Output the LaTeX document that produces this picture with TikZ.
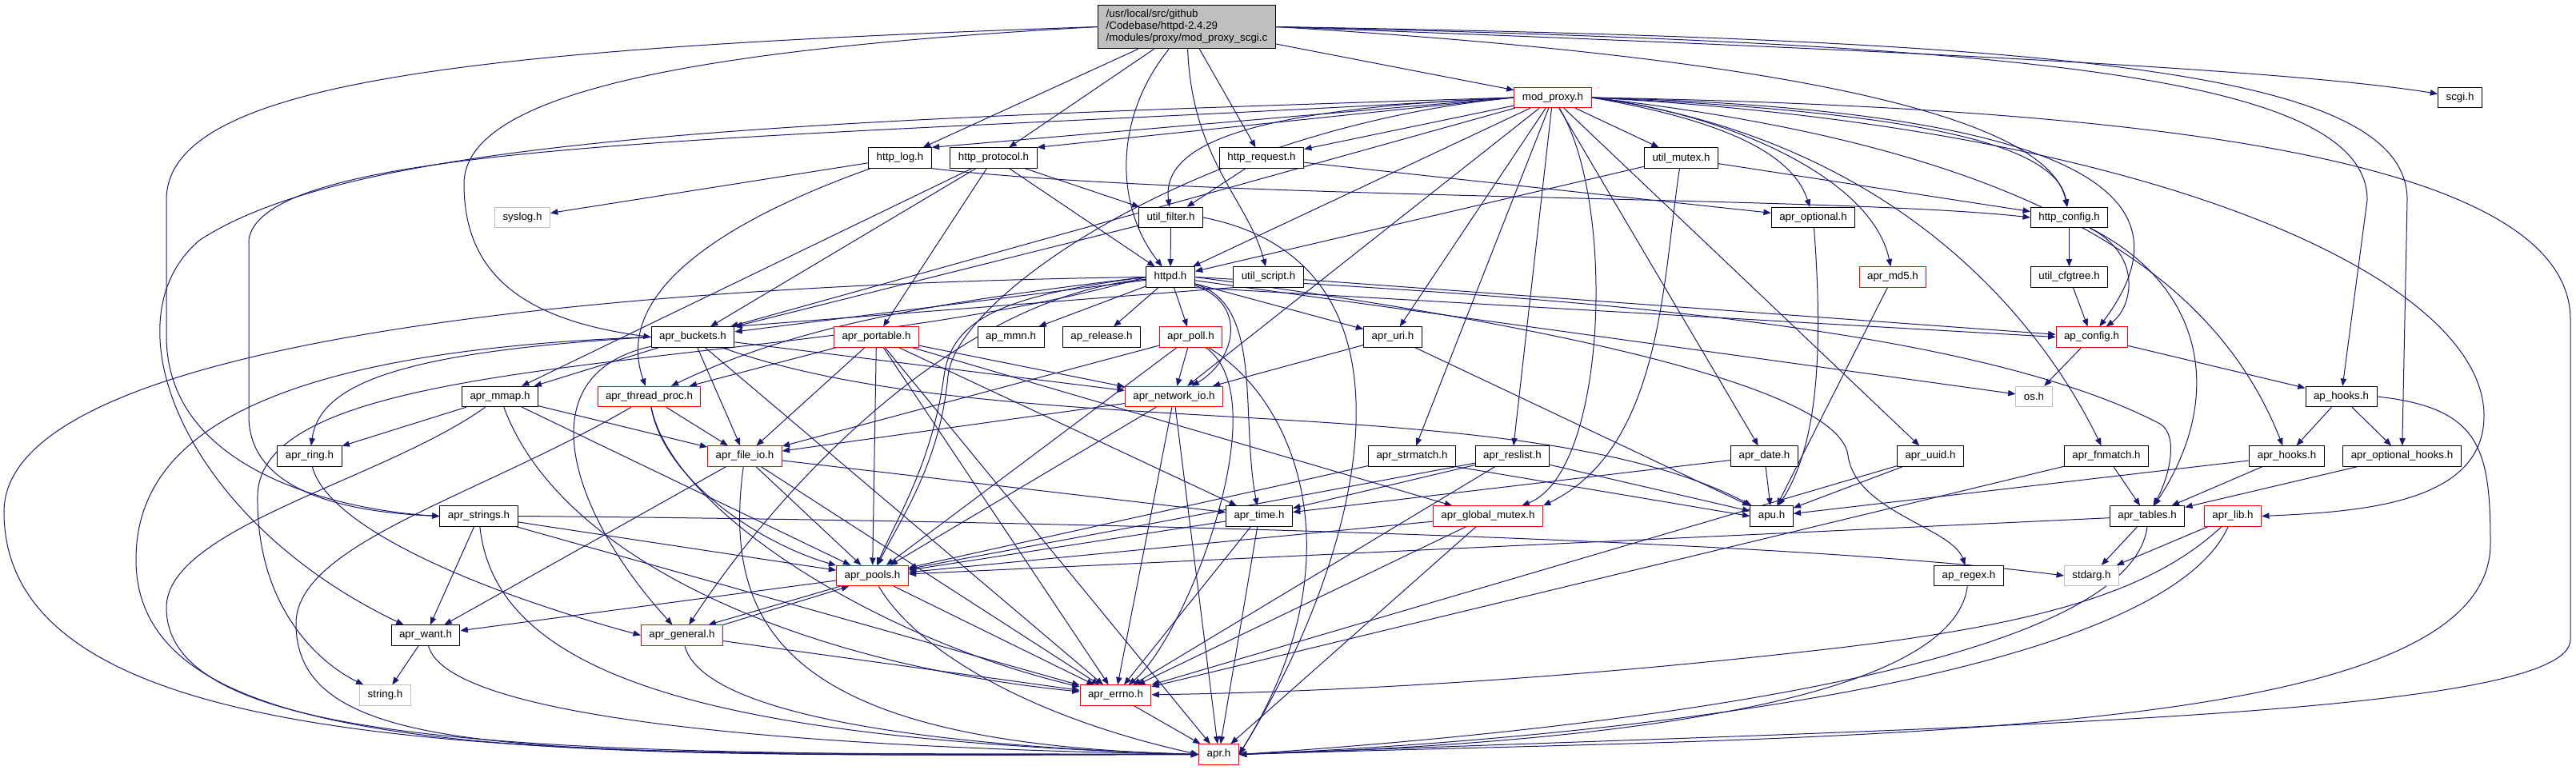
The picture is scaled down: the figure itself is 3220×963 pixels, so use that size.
\documentclass[tikz,border=0pt]{standalone}
\usepackage{fontspec}
\setmainfont{Liberation Sans}
\usetikzlibrary{arrows.meta}
\definecolor{edgeblue}{RGB}{25,25,112}
\definecolor{boxred}{RGB}{255,0,0}
\definecolor{boxgray}{RGB}{191,191,191}
\pgfdeclarelayer{bg}
\pgfdeclarelayer{edges}
\pgfsetlayers{bg,edges,main}
\begin{document}
\begin{tikzpicture}[x=0.75pt,y=-0.75pt,
  box/.style={draw=black, fill=white, rectangle, line width=0.75pt, inner xsep=7.5pt, inner ysep=2pt, minimum height=19pt, font=\fontsize{10}{11.25}\selectfont},
  redbox/.style={box, draw=boxred},
  graybox/.style={box, draw=boxgray},
  mainbox/.style={box, fill=boxgray, align=left, minimum height=41pt},
  e/.style={draw=edgeblue, line width=0.75pt, -{Triangle[length=7pt,width=5.5pt]}}]
\useasboundingbox (0,0) rectangle (3220,963);
\begin{pgfonlayer}{bg}
\fill[white] (0,0) rectangle (3220,963);
\end{pgfonlayer}

% ---------- nodes ----------
\node[mainbox] (main) at (1483.5,33.5) {/usr/local/src/github\\/Codebase/httpd-2.4.29\\/modules/proxy/mod\_proxy\_scgi.c};
\node[redbox] (modproxy) at (1941,122) {mod\_proxy.h};
\node[box] (scgi) at (3075,122) {scgi.h};
\node[box] (httplog) at (1125,197.5) {http\_log.h};
\node[box] (httpprotocol) at (1242,197.5) {http\_protocol.h};
\node[box] (httprequest) at (1577,197.5) {http\_request.h};
\node[box] (utilmutex) at (2101.5,197.5) {util\_mutex.h};
\node[graybox] (syslog) at (653,272) {syslog.h};
\node[box] (utilfilter) at (1463.5,272) {util\_filter.h};
\node[box] (aproptional) at (2266.5,272) {apr\_optional.h};
\node[box] (httpconfig) at (2586.5,272) {http\_config.h};
\node[box] (httpd) at (1463,346.5) {httpd.h};
\node[box] (utilscript) at (1585.5,346.5) {util\_script.h};
\node[redbox] (aprmdfive) at (2366,346.5) {apr\_md5.h};
\node[box] (utilcfgtree) at (2586.5,346.5) {util\_cfgtree.h};
\node[box] (aprbuckets) at (866,421.5) {apr\_buckets.h};
\node[redbox] (aprportable) at (1095.5,421.5) {apr\_portable.h};
\node[box] (apmmn) at (1263.5,421.5) {ap\_mmn.h};
\node[box] (aprelease) at (1377,421.5) {ap\_release.h};
\node[redbox] (aprpoll) at (1488.5,421.5) {apr\_poll.h};
\node[box] (apruri) at (1741,421.5) {apr\_uri.h};
\node[redbox] (apconfig) at (2614.5,421.5) {ap\_config.h};
\node[box] (aprmmap) at (625,496) {apr\_mmap.h};
\node[redbox] (aprthreadproc) at (811.5,496) {apr\_thread\_proc.h};
\node[redbox] (aprnetworkio) at (1467.5,496) {apr\_network\_io.h};
\node[graybox] (osh) at (2542.5,496) {os.h};
\node[box] (aphooks) at (2926.5,496) {ap\_hooks.h};
\node[box] (aprring) at (387,570.5) {apr\_ring.h};
\node[redbox] (aprfileio) at (931,570.5) {apr\_file\_io.h};
\node[box] (aprstrmatch) at (1765,570.5) {apr\_strmatch.h};
\node[box] (aprreslist) at (1890.5,570.5) {apr\_reslist.h};
\node[box] (aprdate) at (2205.5,570.5) {apr\_date.h};
\node[box] (apruuid) at (2413,570.5) {apr\_uuid.h};
\node[box] (aprfnmatch) at (2633,570.5) {apr\_fnmatch.h};
\node[box] (aprhooks) at (2858.5,570.5) {apr\_hooks.h};
\node[box] (aproptionalhooks) at (3002.5,570.5) {apr\_optional\_hooks.h};
\node[box] (aprstrings) at (598.5,645.5) {apr\_strings.h};
\node[box] (aprtime) at (1574,645.5) {apr\_time.h};
\node[redbox] (aprglobalmutex) at (1860,645.5) {apr\_global\_mutex.h};
\node[box] (apu) at (2214.5,645.5) {apu.h};
\node[box] (aprtables) at (2684,645.5) {apr\_tables.h};
\node[redbox] (aprlib) at (2791,645.5) {apr\_lib.h};
\node[redbox] (aprpools) at (1090.5,720) {apr\_pools.h};
\node[box] (apregex) at (2461,720) {ap\_regex.h};
\node[graybox] (stdarg) at (2614.5,720) {stdarg.h};
\node[box] (aprwant) at (532,794.5) {apr\_want.h};
\node[redbox] (aprgeneral) at (852.5,794.5) {apr\_general.h};
\node[graybox] (stringh) at (481.5,869.5) {string.h};
\node[redbox] (aprerrno) at (1394.5,869.5) {apr\_errno.h};
\node[redbox] (apr) at (1523.5,943.5) {apr.h};

% ---------- edges ----------
\begin{pgfonlayer}{edges}
% main file
\draw[e] (main) -- (modproxy);
\draw[e] (main.east) .. controls (2300,60) and (2850,85) .. (scgi);
\draw[e] (main.east) .. controls (2200,70) and (2560,140) .. (httpconfig);
\draw[e] (main.east) .. controls (2500,55) and (2959,90) .. (2959,250) -- (aphooks);
\draw[e] (main.east) .. controls (2600,50) and (3009,90) .. (3009,250) -- (aproptionalhooks);
\draw[e] (main) -- (httplog);
\draw[e] (main) -- (httpprotocol);
\draw[e] (main) -- (httprequest);
\draw[e] (main) .. controls (1390,150) and (1395,260) .. (httpd);
\draw[e] (main) .. controls (1490,200) and (1560,250) .. (utilscript);
\draw[e] (main.west) .. controls (900,60) and (580,110) .. (580,230) .. controls (580,340) and (650,400) .. (aprbuckets.west);
\draw[e] (main.west) .. controls (600,60) and (208,100) .. (208,250) -- (208,420) .. controls (208,600) and (450,640) .. (aprstrings.west);
% mod_proxy.h
\draw[e] (modproxy.west) -- (httplog.north east);
\draw[e] (modproxy.west) -- (httpprotocol.north east);
\draw[e] (modproxy) -- (httprequest);
\draw[e] (modproxy) -- (utilmutex);
\draw[e] (modproxy.west) .. controls (1600,135) and (1450,170) .. (utilfilter);
\draw[e] (modproxy) -- (httpd);
\draw[e] (modproxy.east) .. controls (2400,140) and (2570,180) .. (httpconfig);
\draw[e] (modproxy.east) .. controls (2700,140) and (2720,280) .. (apconfig);
\draw[e] (modproxy.east) .. controls (2150,140) and (2340,220) .. (aprmdfive);
\draw[e] (modproxy) -- (apruri);
\draw[e] (modproxy) -- (aprdate);
\draw[e] (modproxy) -- (aprstrmatch);
\draw[e] (modproxy) -- (aprreslist);
\draw[e] (modproxy) .. controls (2020,250) and (2010,590) .. ([xshift=-20pt]aprglobalmutex.north east);
\draw[e] (modproxy) -- (apruuid);
\draw[e] (modproxy.east) .. controls (2350,170) and (2540,380) .. (aprfnmatch);
\draw[e] (modproxy.east) .. controls (2500,180) and (2760,320) .. (aprhooks);
\draw[e] (modproxy.east) .. controls (2700,160) and (3105,350) .. (3105,520) .. controls (3105,630) and (2950,640) .. (aprlib.east);
\draw[e] (modproxy.east) .. controls (2700,135) and (3213,200) .. (3213,400) -- (3213,800) .. controls (3213,900) and (2400,910) .. (apr.east);
\draw[e] (modproxy.east) .. controls (2150,150) and (2240,190) .. (aproptional);
\draw[e] (modproxy.west) .. controls (1500,160) and (1195,370) .. (1185,470) .. controls (1175,580) and (1125,650) .. (aprpools);
\draw[e] (modproxy) -- (aprnetworkio);
\draw[e] (modproxy) -- (aprbuckets);
\draw[e] (modproxy.west) .. controls (1000,175) and (330,170) .. (311,300) -- (311,520) .. controls (311,610) and (420,640) .. (aprstrings.west);
\draw[e] (modproxy.west) .. controls (1000,150) and (450,170) .. (250,300) .. controls (130,400) and (230,650) .. (aprwant);
% http_log.h
\draw[e] (httplog) -- (syslog);
\draw[e] (httplog.south east) .. controls (1500,250) and (2300,245) .. (httpconfig.west);
\draw[e] (httplog) .. controls (950,260) and (760,350) .. (aprthreadproc);
% http_protocol.h
\draw[e] (httpprotocol) -- (aprmmap);
\draw[e] (httpprotocol) -- (aprbuckets);
\draw[e] (httpprotocol) -- (aprportable);
\draw[e] (httpprotocol) -- (httpd);
\draw[e] (httpprotocol) -- (utilfilter);
% http_request.h
\draw[e] (httprequest) -- (utilfilter);
\draw[e] (httprequest) -- (aproptional);
% util_mutex.h
\draw[e] (utilmutex) -- (httpd);
\draw[e] (utilmutex) -- (httpconfig);
\draw[e] (utilmutex) .. controls (2078,350) and (2078,560) .. (aprglobalmutex.north east);
% util_filter.h
\draw[e] (utilfilter) -- (httpd);
\draw[e] (utilfilter) -- (aprbuckets);
\draw[e] (utilfilter.east) .. controls (1800,330) and (1700,700) .. (apr.east);
% apr_optional.h
\draw[e] (aproptional) .. controls (2280,450) and (2270,560) .. (apu);
% http_config.h
\draw[e] (httpconfig) -- (utilcfgtree);
\draw[e] (httpconfig) .. controls (2680,320) and (2665,385) .. (apconfig);
\draw[e] (httpconfig) .. controls (2760,360) and (2780,500) .. (aprtables);
% httpd.h
\draw[e] (httpd.south east) -- (apconfig.west);
\draw[e] (httpd) -- (apmmn);
\draw[e] (httpd) -- (aprelease);
\draw[e] (httpd.west) .. controls (800,355) and (5,420) .. (5,640) .. controls (5,960) and (700,945) .. (apr.west);
\draw[e] (httpd) .. controls (1200,370) and (980,600) .. (aprgeneral);
\draw[e] (httpd.east) .. controls (1900,370) and (2450,400) .. (2700,530) .. controls (2725,545) and (2710,600) .. (aprtables);
\draw[e] (httpd.west) .. controls (1250,370) and (1190,400) .. (1180,470) .. controls (1165,580) and (1120,650) .. (aprpools);
\draw[e] (httpd) .. controls (1580,380) and (1550,520) .. (aprtime);
\draw[e] (httpd) .. controls (1560,380) and (1545,450) .. (aprnetworkio);
\draw[e] (httpd) -- (aprbuckets);
\draw[e] (httpd) -- (aprpoll);
\draw[e] (httpd.west) .. controls (1150,380) and (990,410) .. (aprthreadproc);
\draw[e] (httpd) -- (osh);
\draw[e] (httpd.east) .. controls (1900,400) and (2300,480) .. (2310,570) .. controls (2320,640) and (2440,660) .. (apregex);
\draw[e] (httpd) -- (apruri);
\draw[e] (httpd.west) .. controls (1000,470) and (325,430) .. (322,620) .. controls (320,760) and (400,830) .. (stringh);
% util_script.h
\draw[e] (utilscript.south west) -- (aprbuckets.north east);
\draw[e] (utilscript) -- (apconfig);
% apr_md5.h, util_cfgtree.h
\draw[e] (aprmdfive) -- (apu);
\draw[e] (utilcfgtree) -- (apconfig);
% apr_buckets.h
\draw[e] (aprbuckets) .. controls (1250,560) and (1900,480) .. (apu);
\draw[e] (aprbuckets) -- (aprnetworkio);
\draw[e] (aprbuckets) -- (aprfileio);
\draw[e] (aprbuckets) .. controls (650,470) and (720,650) .. (aprgeneral);
\draw[e] (aprbuckets) -- (aprmmap);
\draw[e] (aprbuckets) -- (aprerrno);
\draw[e] (aprbuckets.west) .. controls (500,440) and (400,480) .. (aprring);
\draw[e] (aprbuckets.west) .. controls (300,440) and (170,560) .. (170,700) .. controls (170,960) and (700,945) .. (apr.west);
% apr_portable.h
\draw[e] (aprportable) -- (apr);
\draw[e] (aprportable) -- (aprpools);
\draw[e] (aprportable) -- (aprthreadproc);
\draw[e] (aprportable) -- (aprfileio);
\draw[e] (aprportable) -- (aprnetworkio);
\draw[e] (aprportable) -- (aprerrno);
\draw[e] (aprportable) -- (aprglobalmutex);
\draw[e] (aprportable) -- (aprtime);
% apr_poll.h
\draw[e] (aprpoll) .. controls (1620,500) and (1700,700) .. (apr.east);
\draw[e] (aprpoll) -- (aprpools);
\draw[e] (aprpoll) .. controls (1600,500) and (1480,800) .. (aprerrno);
\draw[e] (aprpoll) -- (aprfileio);
\draw[e] (aprpoll) -- (aprnetworkio);
% apr_uri.h
\draw[e] (apruri) -- (aprnetworkio);
\draw[e] (apruri) -- (apu);
% ap_config.h
\draw[e] (apconfig) -- (osh);
\draw[e] (apconfig) -- (aphooks);
% apr_mmap.h
\draw[e] (aprmmap) .. controls (480,600) and (208,660) .. (208,760) .. controls (208,940) and (700,945) .. (apr.west);
\draw[e] (aprmmap) -- (aprring);
\draw[e] (aprmmap) -- (aprpools);
\draw[e] (aprmmap) .. controls (700,700) and (1000,830) .. (aprerrno);
\draw[e] (aprmmap) -- (aprfileio);
% apr_thread_proc.h
\draw[e] (aprthreadproc) .. controls (600,620) and (370,680) .. (370,780) .. controls (370,960) and (700,940) .. (apr.west);
\draw[e] (aprthreadproc) -- (aprfileio);
\draw[e] (aprthreadproc) .. controls (830,600) and (950,680) .. (aprpools);
\draw[e] (aprthreadproc) .. controls (840,640) and (1100,800) .. (aprerrno);
% apr_network_io.h
\draw[e] (aprnetworkio) -- (aprfileio);
\draw[e] (aprnetworkio) -- (aprpools);
\draw[e] (aprnetworkio) -- (aprerrno);
\draw[e] (aprnetworkio) -- (apr);
% ap_hooks.h
\draw[e] (aphooks) -- (aprhooks);
\draw[e] (aphooks) -- (aproptionalhooks);
\draw[e] (aphooks.east) .. controls (3100,510) and (3113,560) .. (3113,680) .. controls (3113,930) and (2300,920) .. (apr.east);
% apr_ring.h
\draw[e] (aprring) .. controls (410,660) and (600,740) .. (aprgeneral.west);
% apr_file_io.h
\draw[e] (aprfileio) -- (aprtime);
\draw[e] (aprfileio) -- (aprwant);
\draw[e] (aprfileio) -- (aprpools);
\draw[e] (aprfileio) -- (aprerrno);
\draw[e] (aprfileio) .. controls (900,800) and (1000,930) .. (apr.west);
% apr_strmatch.h
\draw[e] (aprstrmatch.south east) -- (apu.west);
\draw[e] (aprstrmatch) -- (aprpools);
% apr_reslist.h
\draw[e] (aprreslist) -- (apu);
\draw[e] (aprreslist) -- (aprpools);
\draw[e] (aprreslist) -- (aprerrno);
\draw[e] (aprreslist) -- (aprtime);
% apr_date.h
\draw[e] (aprdate) -- (apu);
\draw[e] (aprdate) -- (aprtime);
% apr_uuid.h
\draw[e] (apruuid) -- (apu);
\draw[e] (apruuid) -- (aprerrno);
% apr_fnmatch.h
\draw[e] (aprfnmatch) -- (aprerrno);
\draw[e] (aprfnmatch) -- (aprtables);
% apr_hooks.h
\draw[e] (aprhooks) -- (apu);
\draw[e] (aprhooks) -- (aprtables);
% apr_optional_hooks.h
\draw[e] (aproptionalhooks) -- (aprtables);
% apr_strings.h
\draw[e] (aprstrings) -- (aprwant);
\draw[e] (aprstrings.east) .. controls (1200,650) and (2200,670) .. (stdarg.west);
\draw[e] (aprstrings) -- (aprpools);
\draw[e] (aprstrings) -- (aprerrno);
\draw[e] (aprstrings) .. controls (620,850) and (900,925) .. (apr.west);
% apr_time.h
\draw[e] (aprtime) -- (apr);
\draw[e] (aprtime) -- (aprerrno);
\draw[e] (aprtime) -- (aprpools);
% apr_global_mutex.h
\draw[e] (aprglobalmutex) -- (apr);
\draw[e] (aprglobalmutex) -- (aprpools);
\draw[e] (aprglobalmutex) -- (aprerrno);
% apr_tables.h
\draw[e] (aprtables.south) .. controls (2660,850) and (1900,920) .. (apr.east);
\draw[e] (aprtables) -- (aprpools);
\draw[e] (aprtables) -- (stdarg);
% apr_lib.h
\draw[e] (aprlib) -- (stdarg);
\draw[e] (aprlib) .. controls (2690,740) and (2550,780) .. (2300,810) .. controls (2000,845) and (1700,865) .. (aprerrno);
\draw[e] (aprlib) .. controls (2700,850) and (2000,925) .. (apr.east);
% apr_pools.h
\draw[e] ([xshift=4pt]aprpools.south west) -- ([xshift=-14pt]aprgeneral.north east);
\draw[e] (aprpools) -- (aprwant);
\draw[e] (aprpools) -- (aprerrno);
\draw[e] (aprpools) .. controls (1150,820) and (1300,900) .. (apr.west);
% ap_regex.h
\draw[e] (apregex) .. controls (2440,880) and (2000,930) .. (apr.east);
% apr_want.h
\draw[e] (aprwant) -- (stringh);
\draw[e] (aprwant) .. controls (560,900) and (1000,935) .. (apr.west);
% apr_general.h
\draw[e] (aprgeneral.north east) -- ([xshift=12pt]aprpools.south west);
\draw[e] (aprgeneral) -- (aprerrno);
\draw[e] (aprgeneral) .. controls (880,900) and (1200,935) .. (apr.west);
% apr_errno.h
\draw[e] (aprerrno) -- (apr);
\end{pgfonlayer}
\end{tikzpicture}
\end{document}
